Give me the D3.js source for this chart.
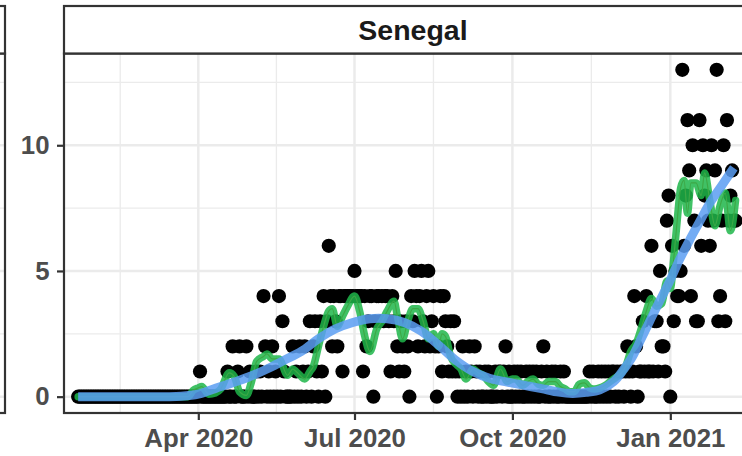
<!DOCTYPE html>
<html><head><meta charset="utf-8">
<script src="https://cdn.jsdelivr.net/npm/d3@7"></script>
<style>
body{margin:0;background:#fff}
svg{display:block}
text{font-family:"Liberation Sans",Arial,Helvetica,sans-serif;font-weight:bold}
</style>
</head><body>
<svg id="chart" width="742" height="456"></svg>
<script>
// ---------------- data ----------------
const panelTitle = "Senegal";
const startDate = "2020-01-22";
// daily deaths, one value per day from startDate
const dailyDeaths = [
0,0,0,0,0,0,0,0,0,0,
0,0,0,0,0,0,0,0,0,0,
0,0,0,0,0,0,0,0,0,0,
0,0,0,0,0,0,0,0,0,0,
0,0,0,0,0,0,0,0,0,0,
0,0,0,0,0,0,0,0,0,0,
0,0,0,0,0,0,0,0,0,0,
0,1,0,0,0,0,0,0,0,0,
0,0,0,0,0,0,0,1,0,0,
2,0,0,1,2,0,0,0,2,0,
1,0,0,0,1,0,1,0,4,2,
0,1,0,2,0,1,0,4,0,3,
1,0,0,0,0,2,0,1,0,2,
0,1,2,0,1,3,0,2,3,1,
0,3,1,4,0,3,6,4,2,4,
3,2,4,4,1,4,4,4,4,4,
4,5,4,4,4,4,1,4,2,3,
4,4,0,3,4,4,3,4,3,4,
4,3,1,4,3,5,2,1,3,2,
1,3,2,0,4,3,5,4,2,4,
5,3,2,4,5,2,3,4,2,0,
2,4,1,4,3,2,1,3,1,3,
1,0,1,0,2,0,1,0,2,1,
0,2,1,0,1,0,0,1,0,1,
0,0,0,1,0,1,1,0,1,2,
0,1,0,0,1,0,1,0,1,0,
0,1,0,1,0,1,0,1,0,0,
1,2,0,1,0,0,1,0,1,0,
0,1,0,1,0,0,0,0,0,0,
0,0,0,0,0,0,0,0,1,0,
1,0,0,1,0,1,0,1,0,1,
0,1,1,0,1,0,1,1,0,1,
2,1,0,1,4,2,0,1,1,3,
1,4,1,1,6,1,3,3,1,5,
2,2,1,7,8,0,6,3,5,4,
4,5,13,6,8,11,9,4,10,7,
3,3,11,6,10,8,9,7,6,10,
7,9,13,3,4,7,10,3,11,7,
8,9,7,7
];
// 7-day rolling average, day offset from startDate
const rollDays = [0,64,67,70,72,76,80,83,88,91,94,98,101,104,108,110,113,117,122,125,127,130,132,135,137,140,143,146,148,151,154,157,161,164,167,170,174,177,180,184,186,189,192,195,198,201,204,207,210,212,214,217,220,223,226,230,233,236,239,242,246,250,253,255,259,262,265,268,271,274,278,281,284,286,289,292,295,298,301,304,307,310,313,316,319,322,325,328,331,334,337,340,343,345,347,349,351,353,355,357,360,363,365,368,371,374,377,380,383];
const rollValues = [0,0,0.25,0.35,0.4,0.1,0.15,0.3,0.95,0.8,0.2,0.05,0.6,1.4,1.6,1.7,1.5,1.5,0.85,1.1,1.0,0.8,0.7,1.0,1.2,2.0,2.8,3.4,3.5,2.8,3.2,3.6,4.0,3.4,2.4,1.8,2.7,3.0,3.4,3.8,3.2,2.3,3.0,3.5,3.5,3.0,2.3,2.5,2.0,2.5,2.4,1.6,1.3,1.1,0.7,1.1,0.95,0.85,0.6,0.45,1.1,0.6,0.7,0.7,0.45,0.6,0.7,0.5,0.45,0.6,0.6,0.4,0.3,0.2,0.2,0.5,0.55,0.35,0.3,0.35,0.45,0.6,0.75,0.9,1.2,1.8,2.1,2.7,3.4,3.9,3.6,3.7,4.6,4.3,5.5,7.0,8.3,8.6,7.3,8.5,8.5,8.0,8.9,7.8,6.8,7.6,8.1,6.6,7.8];
// loess smooth
const smoothDays = [0,30,60,70,80,90,100,110,120,130,140,150,160,170,180,190,200,210,220,230,240,250,260,270,280,288,296,304,312,318,323,328,333,338,344,350,356,362,368,375,382];
const smoothValues = [0,0,0.02,0.1,0.33,0.55,0.8,1.1,1.45,1.8,2.3,2.7,2.95,3.1,3.1,2.95,2.6,2.05,1.45,1.0,0.72,0.58,0.45,0.32,0.18,0.13,0.17,0.27,0.6,1.1,1.6,2.3,3.0,3.7,4.5,5.4,6.2,6.95,7.7,8.4,9.1];

const xTickDates = ["2020-04-01","2020-07-01","2020-10-01","2021-01-01"];
const xTickLabels = ["Apr 2020","Jul 2020","Oct 2020","Jan 2021"];
const xMinorDates = ["2020-02-15T12:00:00Z","2020-05-16T12:00:00Z","2020-08-16T00:00:00Z","2020-11-16T00:00:00Z","2021-02-15T00:00:00Z"];
const yTicks = [0,5,10];
const yMinor = [2.5,7.5,12.5];
const xDomain = ["2020-01-13T18:00:00Z","2021-02-23T10:00:00Z"];
const yDomain = [-0.65,13.65];

// ---------------- layout ----------------
const W = 742, H = 456;
const P = {left:64, right:762, top:53.5, bottom:413, stripTop:6};
const leftPanelRight = 5;
const gridCol = "#ebebeb", borderCol = "#333333";

const svg = d3.select("#chart");
svg.append("rect").attr("width",W).attr("height",H).attr("fill","#fff");

const t0 = d3.isoParse(startDate + "T00:00:00Z");
const dayToDate = d => new Date(t0.getTime() + d*864e5);

const x = d3.scaleUtc().domain(xDomain.map(d3.isoParse)).range([P.left,P.right]);
const y = d3.scaleLinear().domain(yDomain).range([P.bottom,P.top]);

// ---- left (cut-off) neighbouring panel ----
const lp = svg.append("g");
yMinor.forEach(v => lp.append("line").attr("x1",-50).attr("x2",leftPanelRight).attr("y1",y(v)).attr("y2",y(v)).attr("stroke",gridCol).attr("stroke-width",1.3));
yTicks.forEach(v => lp.append("line").attr("x1",-50).attr("x2",leftPanelRight).attr("y1",y(v)).attr("y2",y(v)).attr("stroke",gridCol).attr("stroke-width",2.5));
lp.append("rect").attr("x",-50).attr("y",P.top).attr("width",leftPanelRight+50).attr("height",P.bottom-P.top).attr("fill","none").attr("stroke",borderCol).attr("stroke-width",2.2);
lp.append("rect").attr("x",-50).attr("y",P.stripTop).attr("width",leftPanelRight+50).attr("height",P.top-P.stripTop).attr("fill","#fff").attr("stroke",borderCol).attr("stroke-width",2.2);

// ---- main panel ----
svg.append("defs").append("clipPath").attr("id","clip").append("rect")
  .attr("x",P.left).attr("y",P.top).attr("width",P.right-P.left).attr("height",P.bottom-P.top);
const g = svg.append("g").attr("clip-path","url(#clip)");

// grid
xMinorDates.map(d3.isoParse).forEach(d => g.append("line").attr("x1",x(d)).attr("x2",x(d)).attr("y1",P.top).attr("y2",P.bottom).attr("stroke",gridCol).attr("stroke-width",1.3));
yMinor.forEach(v => g.append("line").attr("x1",P.left).attr("x2",P.right).attr("y1",y(v)).attr("y2",y(v)).attr("stroke",gridCol).attr("stroke-width",1.3));
xTickDates.map(d => d3.isoParse(d+"T00:00:00Z")).forEach(d => g.append("line").attr("x1",x(d)).attr("x2",x(d)).attr("y1",P.top).attr("y2",P.bottom).attr("stroke",gridCol).attr("stroke-width",2.5));
yTicks.forEach(v => g.append("line").attr("x1",P.left).attr("x2",P.right).attr("y1",y(v)).attr("y2",y(v)).attr("stroke",gridCol).attr("stroke-width",2.5));

// points
g.append("g").selectAll("circle").data(dailyDeaths).join("circle")
  .attr("cx",(v,i) => x(dayToDate(i))).attr("cy",v => y(v)).attr("r",7.1).attr("fill","#000");

// rolling average lines
const rollData = rollDays.map((d,i) => [dayToDate(d), rollValues[i]]);
const line = d3.line().x(d => x(d[0])).y(d => y(d[1])).curve(d3.curveMonotoneX);
g.append("path").datum(rollData).attr("d",line).attr("fill","none").attr("stroke","#e4572e").attr("stroke-width",1.2);
g.append("path").datum(rollData).attr("d",line).attr("fill","none").attr("stroke","#1fb64a").attr("stroke-opacity",0.85)
  .attr("stroke-width",7.5).attr("stroke-linejoin","round").attr("stroke-linecap","round");

// smooth
const smoothData = smoothDays.map((d,i) => [dayToDate(d), smoothValues[i]]);
const sline = d3.line().x(d => x(d[0])).y(d => y(d[1])).curve(d3.curveCatmullRom);
g.append("path").datum(smoothData).attr("d",sline).attr("fill","none").attr("stroke","#5a9df2").attr("stroke-opacity",0.85)
  .attr("stroke-width",9).attr("stroke-linejoin","round");

// border
svg.append("rect").attr("x",P.left).attr("y",P.top).attr("width",P.right-P.left).attr("height",P.bottom-P.top)
  .attr("fill","none").attr("stroke",borderCol).attr("stroke-width",2.2);
// strip
svg.append("rect").attr("x",P.left).attr("y",P.stripTop).attr("width",P.right-P.left).attr("height",P.top-P.stripTop)
  .attr("fill","#fff").attr("stroke",borderCol).attr("stroke-width",2.2);
svg.append("text").attr("x",(P.left+P.right)/2).attr("y",39.5).attr("text-anchor","middle")
  .attr("font-size","28.5px").attr("fill","#1a1a1a").text(panelTitle);

// axes
const xAxis = d3.axisBottom(x)
  .tickValues(xTickDates.map(d => d3.isoParse(d+"T00:00:00Z")))
  .tickFormat((d,i) => xTickLabels[i]).tickSize(7).tickPadding(8.5);
const gx = svg.append("g").attr("transform",`translate(0,${P.bottom})`).call(xAxis);
const yAxis = d3.axisLeft(y).tickValues(yTicks).tickFormat(d3.format("d")).tickSize(7).tickPadding(7.5);
const gy = svg.append("g").attr("transform",`translate(${P.left},0)`).call(yAxis);
[gx,gy].forEach(a => {
  a.select(".domain").remove();
  a.selectAll(".tick line").attr("stroke",borderCol).attr("stroke-width",2.2);
  a.selectAll(".tick text").attr("fill","#4d4d4d").attr("font-size","25.8px")
    .attr("font-family",'"Liberation Sans",Arial,Helvetica,sans-serif').attr("font-weight","bold");
});
</script>
</body></html>
